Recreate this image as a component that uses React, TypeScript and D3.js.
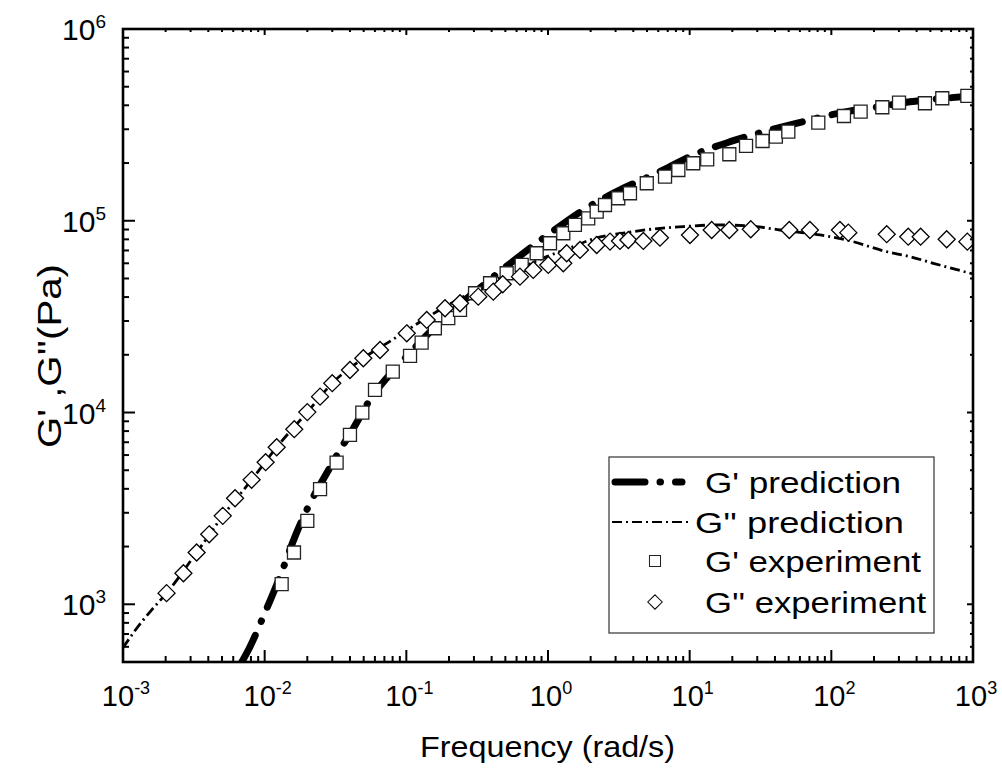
import React from "react";
import * as d3 from "d3";

// ---- data ----
const gpPredFreq = [0.0069, 0.00788, 0.00977, 0.01282, 0.01637, 0.0209, 0.0274, 0.034, 0.0423, 0.0553, 0.0726, 0.0953, 0.1355, 0.2032, 0.3055, 0.4365, 0.67, 1.033, 1.775, 3.22, 5.85, 10.6, 19.3, 36.9, 63.4, 128, 220, 359, 525, 1000];
const gpPredVal = [500, 601, 861, 1393, 2254, 3365, 4819, 6383, 8279, 11640, 15100, 18800, 24770, 33450, 42560, 52840, 67760, 86100, 113800, 144800, 177000, 220300, 258400, 297000, 328800, 370700, 393600, 417800, 430100, 447700];

const gppPredFreq = [0.001, 0.00125, 0.001595, 0.00203, 0.00331, 0.00506, 0.00809, 0.01216, 0.02, 0.03, 0.0497, 0.0793, 0.1247, 0.2032, 0.331, 0.54, 0.98, 1.51, 1.98, 4.0, 6.17, 9.0, 15.5, 26.7, 43.4, 83.2, 128, 246, 359, 525, 1000];
const gppPredVal = [593, 750, 935, 1143, 1862, 2891, 4457, 6592, 10050, 14220, 19190, 23900, 29660, 36820, 44650, 53450, 65000, 73300, 79400, 87800, 91300, 93200, 95100, 94000, 89500, 84300, 79400, 69000, 65000, 60000, 52800];

const gpExpFreq = [0.01318, 0.0161, 0.02, 0.0246, 0.0322, 0.04, 0.0489, 0.0601, 0.0802, 0.1062, 0.1282, 0.159, 0.1977, 0.2393, 0.3055, 0.39, 0.5107, 0.652, 0.832, 1.033, 1.282, 1.549, 1.923, 2.207, 2.525, 3.133, 3.79, 4.98, 6.7, 8.32, 10.6, 13.3, 19.05, 25.0, 32.7, 40.6, 49.7, 80.9, 122.8, 161, 229, 300.5, 458, 607, 912];
const gpExpVal = [1273, 1862, 2723, 3981, 5480, 7645, 9990, 13120, 16330, 19730, 23130, 27510, 31030, 34260, 41880, 47220, 53230, 58870, 67700, 76340, 86070, 95100, 103000, 111500, 120800, 131000, 139100, 156900, 169800, 184000, 199500, 209200, 222200, 245500, 260600, 274500, 291400, 324800, 351800, 370600, 390700, 412700, 409900, 435300, 447700];

const gppExpFreq = [0.00203, 0.00267, 0.00331, 0.00406, 0.00506, 0.00618, 0.00809, 0.01016, 0.01216, 0.01618, 0.02, 0.0246, 0.03, 0.04, 0.0497, 0.0652, 0.1007, 0.1393, 0.1875, 0.2393, 0.322, 0.411, 0.479, 0.634, 0.787, 1.005, 1.282, 1.355, 1.682, 2.207, 2.74, 3.22, 3.69, 4.71, 6.17, 10.05, 14.3, 19.05, 27.0, 50.5, 70.6, 115, 131.8, 246, 349, 427, 652, 912];
const gppExpVal = [1143, 1452, 1862, 2317, 2891, 3573, 4457, 5508, 6592, 8185, 10050, 12100, 14220, 16670, 19190, 21180, 25890, 30390, 34990, 37140, 40200, 42690, 46660, 51110, 55410, 58840, 60000, 67700, 70430, 74770, 77840, 78500, 79400, 78500, 81600, 84300, 89500, 89500, 90300, 89500, 89500, 89500, 86700, 85100, 82600, 82600, 80100, 77800];

const xTickExps = [-3, -2, -1, 0, 1, 2, 3];
const yTickExps = [3, 4, 5, 6];
const legendLabels = ["G' prediction", "G'' prediction", "G' experiment", "G'' experiment"];
const xTitle = "Frequency (rad/s)";
const yTitle = "G' ,G''(Pa)";

const FONT = "Arial, 'Liberation Sans', sans-serif";

export default function App() {
  const L = 123, R = 973, T = 29, B = 662;
  const x = d3.scaleLog().domain([1e-3, 1e3]).range([L, R]);
  const y = d3.scaleLog().domain([500, 1e6]).range([B, T]);

  const zip = (a: number[], b: number[]) => a.map((v, i) => [v, b[i]] as [number, number]);
  const line = d3.line<[number, number]>().x(d => x(d[0])).y(d => y(d[1])).curve(d3.curveMonotoneX);

  const gpPred = zip(gpPredFreq, gpPredVal);
  const gppPred = zip(gppPredFreq, gppPredVal);
  const gpExp = zip(gpExpFreq, gpExpVal);
  const gppExp = zip(gppExpFreq, gppExpVal);

  const xMinor: number[] = [];
  for (let e = -3; e < 3; e++) for (let m = 2; m <= 9; m++) xMinor.push(m * Math.pow(10, e));
  const yMinor: number[] = [];
  for (let e = 2; e < 6; e++) for (let m = 2; m <= 9; m++) {
    const v = m * Math.pow(10, e);
    if (v >= 500 && v < 1e6) yMinor.push(v);
  }

  const sq = 13, dia = 8.5;
  const squarePath = (cx: number, cy: number) => `M${cx - sq / 2},${cy - sq / 2}h${sq}v${sq}h${-sq}Z`;
  const diamondPath = (cx: number, cy: number) => `M${cx},${cy - dia}L${cx + dia},${cy}L${cx},${cy + dia}L${cx - dia},${cy}Z`;

  const gpDash = "30 15 0.5 15";
  const gppDash = "10 4 2 4";

  const legX = 609, legY = 457, legW = 325, legH = 176;
  const rowY = [482, 522, 561, 602];
  const legTextX = [705, 695, 705, 705];
  const legTextW = [196, 209, 216, 221];

  return (
    <svg width={1002} height={775} style={{ display: "block", position: "absolute", left: 0, top: 0 }}>
      <rect x={0} y={0} width={1002} height={775} fill="#fff" />
      <defs>
        <clipPath id="plotclip">
          <rect x={L} y={T} width={R - L} height={B - T} />
        </clipPath>
      </defs>

      <g clipPath="url(#plotclip)">
        <path d={line(gppPred) || ""} fill="none" stroke="#000" strokeWidth={2.8} strokeDasharray={gppDash} />
        <path d={line(gpPred) || ""} fill="none" stroke="#000" strokeWidth={7} strokeDasharray={gpDash} strokeLinecap="round" />
        {gpExp.map((d, i) => (
          <path key={"s" + i} d={squarePath(x(d[0]), y(d[1]))} fill="#fff" stroke="#222" strokeWidth={1.3} />
        ))}
        {gppExp.map((d, i) => (
          <path key={"d" + i} d={diamondPath(x(d[0]), y(d[1]))} fill="#fff" stroke="#000" strokeWidth={1.3} />
        ))}
      </g>

      <rect x={L} y={T} width={R - L} height={B - T} fill="none" stroke="#000" strokeWidth={2.6} />

      {xTickExps.map(e => {
        const px = x(Math.pow(10, e));
        return (
          <g key={"xt" + e}>
            <line x1={px} x2={px} y1={B} y2={B - 12} stroke="#000" strokeWidth={2} />
            <line x1={px} x2={px} y1={T} y2={T + 6} stroke="#000" strokeWidth={2} />
          </g>
        );
      })}
      {xMinor.map((v, i) => {
        const px = x(v);
        return (
          <g key={"xm" + i}>
            <line x1={px} x2={px} y1={B} y2={B - 6} stroke="#000" strokeWidth={2} />
            <line x1={px} x2={px} y1={T} y2={T + 3} stroke="#000" strokeWidth={2} />
          </g>
        );
      })}
      {yTickExps.map(e => {
        const py = y(Math.pow(10, e));
        return (
          <g key={"yt" + e}>
            <line x1={L} x2={L + 12} y1={py} y2={py} stroke="#000" strokeWidth={2} />
            <line x1={R} x2={R - 6} y1={py} y2={py} stroke="#000" strokeWidth={2} />
          </g>
        );
      })}
      {yMinor.map((v, i) => {
        const py = y(v);
        return (
          <g key={"ym" + i}>
            <line x1={L} x2={L + 6} y1={py} y2={py} stroke="#000" strokeWidth={2} />
            <line x1={R} x2={R - 3} y1={py} y2={py} stroke="#000" strokeWidth={2} />
          </g>
        );
      })}

      {xTickExps.map(e => (
        <text key={"xl" + e} x={x(Math.pow(10, e)) + 3} y={706} textAnchor="middle" fontFamily={FONT} fontSize={29}>
          10<tspan dy={-12} fontSize={18}>{String(e)}</tspan>
        </text>
      ))}
      {yTickExps.map(e => (
        <text key={"yl" + e} x={106} y={y(Math.pow(10, e)) + 11} textAnchor="end" fontFamily={FONT} fontSize={30}>
          10<tspan dy={-12} fontSize={19}>{String(e)}</tspan>
        </text>
      ))}

      <text x={420} y={757} fontFamily={FONT} fontSize={30} textLength={255} lengthAdjust="spacingAndGlyphs">{xTitle}</text>
      <text transform={`translate(61,448) rotate(-90)`} fontFamily={FONT} fontSize={33} textLength={184} lengthAdjust="spacingAndGlyphs">{yTitle}</text>

      <rect x={legX} y={legY} width={legW} height={legH} fill="#fff" stroke="#333" strokeWidth={1.2} />
      <line x1={615} x2={682} y1={rowY[0]} y2={rowY[0]} stroke="#000" strokeWidth={7} strokeDasharray={gpDash} strokeLinecap="round" />
      <line x1={612} x2={692} y1={rowY[1]} y2={rowY[1]} stroke="#000" strokeWidth={2.2} strokeDasharray={gppDash} />
      <path d={squarePath(655, rowY[2])} fill="#fff" stroke="#222" strokeWidth={1.2} transform={`translate(655,${rowY[2]}) scale(0.85) translate(-655,${-rowY[2]})`} />
      <path d={diamondPath(655, rowY[3])} fill="#fff" stroke="#000" strokeWidth={1.2} transform={`translate(655,${rowY[3]}) scale(0.85) translate(-655,${-rowY[3]})`} />
      {legendLabels.map((t, i) => (
        <text key={"lg" + i} x={legTextX[i]} y={rowY[i] + 11} fontFamily={FONT} fontSize={30} textLength={legTextW[i]} lengthAdjust="spacingAndGlyphs">{t}</text>
      ))}
    </svg>
  );
}
